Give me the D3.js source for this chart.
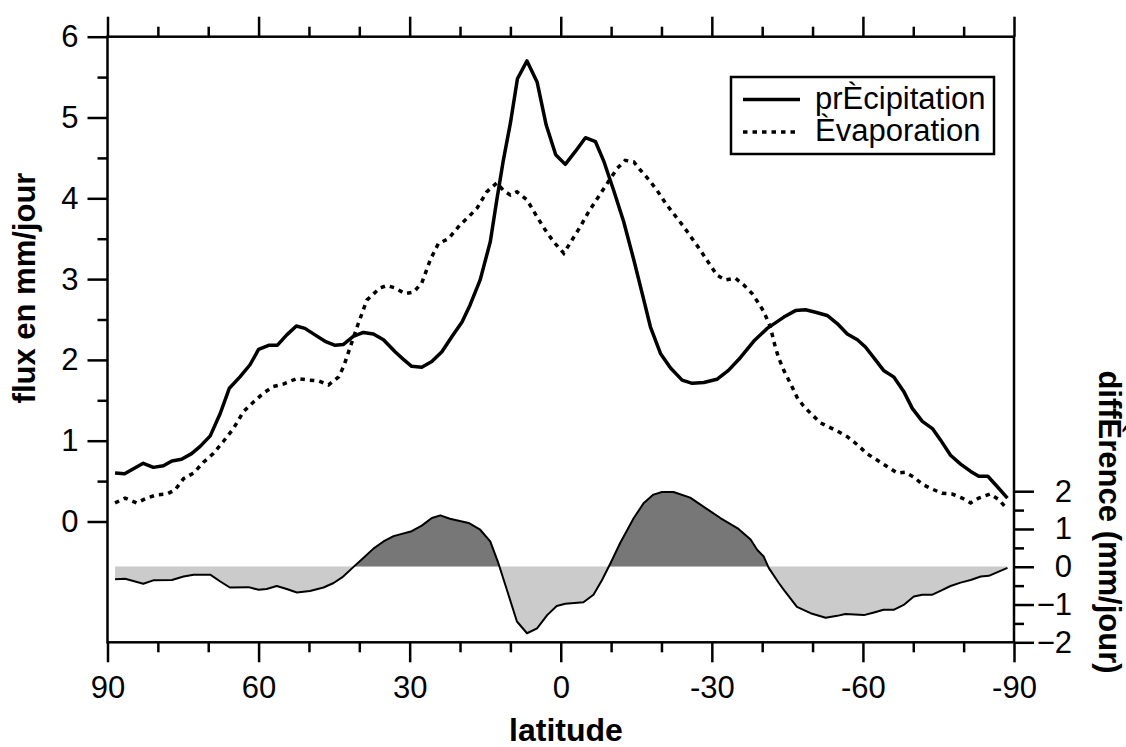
<!DOCTYPE html>
<html><head><meta charset="utf-8">
<script src="https://cdn.jsdelivr.net/npm/d3@7"></script>
<style>
body{margin:0;background:#fff;}
svg{display:block;font-family:"Liberation Sans",Arial,Helvetica,sans-serif;}
</style></head>
<body><svg id="c" width="1126" height="747"></svg>
<script>
// ---- data ----
const precipLat = [88.5,86.6,82.9,80.9,78.9,77.2,75.3,73.3,71.6,69.6,67.6,65.8,63.7,61.7,60.0,58.0,56.3,54.4,52.5,50.8,48.8,46.8,44.8,43.2,41.2,39.2,37.2,35.2,32.9,31.3,29.6,27.6,25.6,23.6,21.6,19.6,18.0,16.0,14.0,12.7,11.4,10.0,8.6,6.7,4.7,2.9,1.0,-0.9,-2.9,-4.9,-6.9,-8.6,-10.5,-12.5,-14.5,-16.5,-17.8,-19.8,-21.8,-24.1,-26.1,-28.4,-31.0,-33.3,-35.7,-38.3,-41.0,-44.3,-46.6,-48.6,-50.6,-52.9,-54.9,-56.9,-58.9,-60.5,-62.5,-64.1,-66.1,-68.1,-69.8,-71.8,-73.8,-75.4,-77.4,-79.4,-81.4,-83.0,-84.8,-86.7,-88.7];
const precip = [0.60,0.59,0.72,0.67,0.69,0.75,0.77,0.84,0.93,1.06,1.34,1.65,1.79,1.94,2.13,2.18,2.18,2.31,2.42,2.39,2.31,2.23,2.18,2.19,2.29,2.34,2.32,2.25,2.10,2.01,1.92,1.91,1.98,2.10,2.29,2.47,2.68,2.99,3.46,3.98,4.47,4.93,5.48,5.70,5.44,4.91,4.54,4.42,4.58,4.75,4.70,4.45,4.10,3.71,3.24,2.74,2.41,2.08,1.90,1.75,1.71,1.72,1.76,1.87,2.03,2.23,2.39,2.53,2.61,2.62,2.59,2.55,2.45,2.32,2.25,2.16,2.00,1.87,1.79,1.61,1.40,1.24,1.15,1.01,0.82,0.71,0.62,0.56,0.56,0.43,0.29];

const evapLat = [88.5,86.5,84.2,82.2,80.2,78.2,76.6,74.9,72.9,71.0,69.0,67.0,65.0,63.0,61.0,59.0,57.1,55.1,52.4,50.1,48.1,46.1,44.1,43.1,41.8,40.2,38.5,35.9,34.5,32.9,30.9,29.2,27.6,25.9,24.3,22.3,20.0,18.3,16.6,14.7,12.7,11.4,10.0,8.7,6.7,4.7,3.1,1.4,-0.6,-2.2,-3.9,-5.5,-7.5,-9.5,-11.2,-12.8,-14.5,-15.8,-17.5,-19.1,-20.8,-22.4,-24.4,-26.1,-27.7,-29.4,-31.0,-32.7,-34.7,-36.3,-38.0,-39.3,-40.3,-41.6,-42.6,-43.3,-44.3,-45.6,-46.9,-48.2,-49.6,-51.6,-54.9,-56.9,-58.9,-60.8,-62.8,-64.8,-66.8,-68.4,-70.1,-71.8,-73.8,-75.7,-77.7,-79.7,-81.4,-83.0,-85.3,-87.0,-88.7];
const evap = [0.23,0.29,0.23,0.29,0.33,0.34,0.39,0.53,0.60,0.73,0.84,0.99,1.15,1.36,1.48,1.59,1.67,1.70,1.77,1.75,1.74,1.69,1.79,1.92,2.16,2.45,2.74,2.89,2.92,2.89,2.82,2.84,2.95,3.24,3.44,3.50,3.67,3.77,3.88,4.08,4.19,4.10,4.04,4.08,3.98,3.77,3.61,3.46,3.32,3.48,3.65,3.83,4.02,4.21,4.37,4.47,4.45,4.35,4.23,4.10,3.94,3.81,3.65,3.50,3.36,3.20,3.05,2.99,3.01,2.93,2.82,2.70,2.60,2.41,2.16,2.02,1.87,1.71,1.54,1.43,1.34,1.22,1.12,1.05,0.95,0.84,0.76,0.68,0.60,0.61,0.55,0.46,0.40,0.35,0.34,0.29,0.23,0.29,0.34,0.27,0.15];

const diffLat = [88.5,86.5,82.9,80.9,77.2,74.9,72.9,69.6,67.6,65.7,62.0,60.0,58.4,56.4,54.4,52.4,49.8,47.1,45.1,43.2,41.2,39.2,37.2,35.2,33.2,29.6,27.6,25.6,23.9,22.0,18.3,16.0,14.0,12.4,10.7,8.7,6.7,4.7,2.7,0.8,-0.9,-4.5,-6.5,-8.2,-9.9,-11.8,-14.5,-16.5,-18.4,-20.1,-22.4,-25.7,-28.7,-31.7,-35.3,-37.7,-39.0,-40.3,-41.3,-43.3,-44.3,-46.9,-49.6,-52.6,-54.9,-56.5,-60.2,-62.2,-64.1,-66.1,-68.1,-70.1,-71.8,-73.8,-75.4,-77.4,-79.4,-81.4,-83.4,-85.0,-88.7];
const diff = [-0.33,-0.32,-0.45,-0.36,-0.35,-0.26,-0.21,-0.21,-0.39,-0.55,-0.54,-0.61,-0.59,-0.51,-0.59,-0.68,-0.64,-0.55,-0.43,-0.26,-0.01,0.23,0.48,0.67,0.81,0.94,1.09,1.29,1.36,1.27,1.16,0.98,0.67,0.10,-0.61,-1.45,-1.76,-1.63,-1.28,-1.04,-0.98,-0.94,-0.74,-0.35,0.10,0.63,1.29,1.69,1.91,1.98,1.98,1.83,1.56,1.29,1.00,0.72,0.45,0.27,-0.03,-0.43,-0.61,-1.06,-1.23,-1.35,-1.30,-1.25,-1.28,-1.21,-1.14,-1.14,-1.01,-0.79,-0.74,-0.74,-0.64,-0.51,-0.42,-0.35,-0.26,-0.24,-0.03];

const xMajorTicks = [90,60,30,0,-30,-60,-90];
const xTickLabels = ["90","60","30","0","-30","-60","-90"];
const yLeftTicks = [0,1,2,3,4,5,6];
const yRightTicks = [2,1,0,-1,-2];
const legendLabels = ["prÈcipitation","Èvaporation"];
const titles = {x:"latitude", yLeft:"flux en mm/jour", yRight:"diffÈrence (mm/jour)"};

// ---- chart ----
const svg = d3.select("#c");
const L=107.5, R=1014, T=36.7, B=642.3;
const x = d3.scaleLinear().domain([90,-90]).range([L,R]);
const yL = d3.scaleLinear().domain([0,6]).range([521.5,T]);
const yR = d3.scaleLinear().domain([-2,2]).range([B,491.2]);
const FS = 31;

// difference area split into positive / negative
const dpts = diffLat.map((la,i)=>({la, v:diff[i]}));
const defs = svg.append("defs");
defs.append("clipPath").attr("id","pos").append("rect").attr("x",0).attr("y",0).attr("width",1126).attr("height",yR(0));
defs.append("clipPath").attr("id","neg").append("rect").attr("x",0).attr("y",yR(0)).attr("width",1126).attr("height",747);
const area = d3.area().x(d=>x(d.la)).y0(yR(0)).y1(d=>yR(d.v));
svg.append("path").datum(dpts).attr("d",area).attr("fill","#777777").attr("clip-path","url(#pos)");
svg.append("path").datum(dpts).attr("d",area).attr("fill","#cbcbcb").attr("clip-path","url(#neg)");
svg.append("path").datum(dpts).attr("d",d3.line().x(d=>x(d.la)).y(d=>yR(d.v)))
  .attr("fill","none").attr("stroke","#000").attr("stroke-width",2).attr("stroke-linejoin","round");

// precip & evap lines
svg.append("path").datum(precipLat.map((la,i)=>[la,precip[i]]))
  .attr("d",d3.line().x(d=>x(d[0])).y(d=>yL(d[1])))
  .attr("fill","none").attr("stroke","#000").attr("stroke-width",3.5).attr("stroke-linejoin","round");
svg.append("path").datum(evapLat.map((la,i)=>[la,evap[i]]))
  .attr("d",d3.line().x(d=>x(d[0])).y(d=>yL(d[1])))
  .attr("fill","none").attr("stroke","#000").attr("stroke-width",3.5).attr("stroke-dasharray","4.5,5");

// frame
svg.append("rect").attr("x",L).attr("y",T).attr("width",R-L).attr("height",B-T)
  .attr("fill","none").attr("stroke","#000").attr("stroke-width",2.5);

function styleAxis(g){
  g.select(".domain").remove();
  g.selectAll(".tick line").attr("stroke","#000").attr("stroke-width",2.5);
  g.selectAll("text").attr("font-size",FS).attr("fill","#000").attr("font-family","Liberation Sans, Arial, sans-serif");
}
const xMinor = d3.range(-90,91,10).filter(v=>xMajorTicks.indexOf(v)<0);
// bottom axis
svg.append("g").attr("transform",`translate(0,${B})`)
  .call(d3.axisBottom(x).tickValues(xMajorTicks).tickSize(20).tickPadding(14).tickFormat((d,i)=>xTickLabels[i])).call(styleAxis);
svg.append("g").attr("transform",`translate(0,${B})`)
  .call(d3.axisBottom(x).tickValues(xMinor).tickSize(10).tickFormat("")).call(styleAxis);
// top axis (ticks only)
svg.append("g").attr("transform",`translate(0,${T})`)
  .call(d3.axisTop(x).tickValues(xMajorTicks).tickSize(20).tickFormat("")).call(styleAxis);
svg.append("g").attr("transform",`translate(0,${T})`)
  .call(d3.axisTop(x).tickValues(xMinor).tickSize(10).tickFormat("")).call(styleAxis);
// left axis
svg.append("g").attr("transform",`translate(${L},0)`)
  .call(d3.axisLeft(yL).tickValues(yLeftTicks).tickSize(20).tickPadding(9).tickFormat(d3.format("d"))).call(styleAxis);
svg.append("g").attr("transform",`translate(${L},0)`)
  .call(d3.axisLeft(yL).tickValues([0.5,1.5,2.5,3.5,4.5,5.5]).tickSize(10).tickFormat("")).call(styleAxis);
// right axis
const ra = svg.append("g").attr("transform",`translate(${R},0)`)
  .call(d3.axisRight(yR).tickValues(yRightTicks).tickSize(20).tickFormat(d3.format("d"))).call(styleAxis);
ra.selectAll("text").attr("text-anchor","end").attr("x",58);
svg.append("g").attr("transform",`translate(${R},0)`)
  .call(d3.axisRight(yR).tickValues([1.5,0.5,-0.5,-1.5]).tickSize(10).tickFormat("")).call(styleAxis);

// titles
svg.append("text").attr("x",566).attr("y",741).attr("text-anchor","middle")
  .attr("font-size",32).attr("font-weight","bold").text(titles.x);
svg.append("text").attr("transform","translate(35,288) rotate(-90)").attr("text-anchor","middle")
  .attr("font-size",31).attr("font-weight","bold").text(titles.yLeft);
svg.append("text").attr("transform","translate(1099,522) rotate(90)").attr("text-anchor","middle")
  .attr("font-size",31).attr("font-weight","bold").text(titles.yRight);

// legend
const lg = svg.append("g");
lg.append("rect").attr("x",731).attr("y",77).attr("width",263).attr("height",77)
  .attr("fill","#fff").attr("stroke","#000").attr("stroke-width",2.5);
lg.append("line").attr("x1",743).attr("x2",800).attr("y1",99.5).attr("y2",99.5).attr("stroke","#000").attr("stroke-width",3.5);
lg.append("line").attr("x1",743).attr("x2",795).attr("y1",132).attr("y2",132).attr("stroke","#000").attr("stroke-width",3.5).attr("stroke-dasharray","4.5,5");
lg.append("text").attr("x",815).attr("y",108.5).attr("font-size",FS).text(legendLabels[0]);
lg.append("text").attr("x",815).attr("y",140.5).attr("font-size",FS).text(legendLabels[1]);
</script></body></html>
